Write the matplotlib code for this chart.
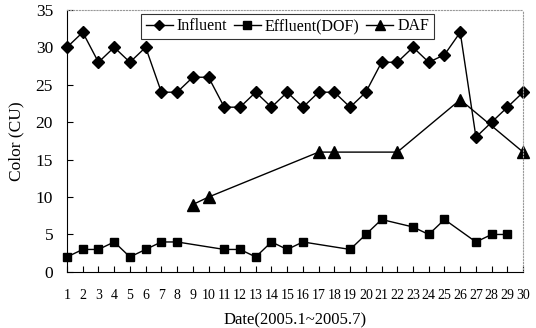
import matplotlib
matplotlib.use('Agg')
import matplotlib.pyplot as plt
import numpy as np

plt.rcParams['font.family'] = 'Liberation Serif'

days = list(range(1, 31))
influent = [30, 32, 28, 30, 28, 30, 24, 24, 26, 26, 22, 22, 24, 22, 24,
            22, 24, 24, 22, 24, 28, 28, 30, 28, 29, 32, 18, 20, 22, 24]

eff_days = [1, 2, 3, 4, 5, 6, 7, 8, 11, 12, 13, 14, 15, 16, 19, 20, 21,
            23, 24, 25, 27, 28, 29]
effluent = [2, 3, 3, 4, 2, 3, 4, 4, 3, 3, 2, 4, 3, 4, 3, 5, 7,
            6, 5, 7, 4, 5, 5]

daf_days = [9, 10, 17, 18, 22, 26, 30]
daf = [9, 10, 16, 16, 16, 23, 16]

fig = plt.figure(figsize=(5.36, 3.28), dpi=100)
ax = fig.add_axes([0.125, 0.171, 0.851, 0.799])

ax.plot(days, influent, 'k-', marker='D', markersize=6, lw=1, label='Influent', clip_on=False)
ax.plot(eff_days, effluent, 'k-', marker='s', markersize=6, lw=1, label='Effluent(DOF)', clip_on=False)
ax.plot(daf_days, daf, 'k-', marker='^', markersize=8, lw=1, label='DAF', clip_on=False)

ax.set_xlim(1, 30)
ax.set_ylim(0, 35)
ax.set_xticks(days)
ax.set_yticks(range(0, 36, 5))
ax.tick_params(axis='x', direction='in', length=4, pad=12, labelsize=10)
ax.tick_params(axis='y', direction='in', length=4, pad=10, labelsize=12.5)

ax.spines['top'].set_linestyle(':')
ax.spines['top'].set_color('#999999')
ax.spines['right'].set_linestyle(':')
ax.spines['right'].set_color('#999999')

ax.set_xlabel('Date(2005.1~2005.7)', fontsize=12, labelpad=8)
ax.set_ylabel('Color (CU)', fontsize=12.5, labelpad=8)

leg = ax.legend(loc='upper center', bbox_to_anchor=(0.483, 0.986), ncol=3, fontsize=11.5,
                frameon=True, fancybox=False, edgecolor='black', handlelength=1.7,
                handletextpad=0.25, columnspacing=0.4, borderpad=0.3,
                borderaxespad=0.0, markerscale=0.85)
leg.get_frame().set_linewidth(0.8)

plt.savefig('out.png', dpi=100)
